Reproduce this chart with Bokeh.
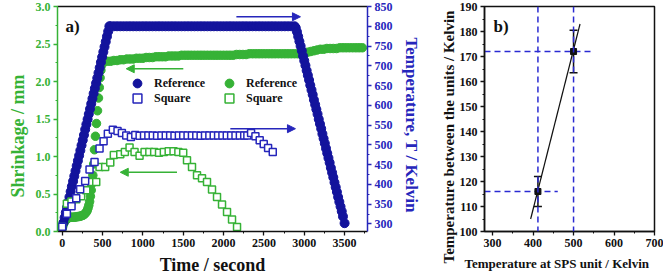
from bokeh.plotting import figure
from bokeh.models import (Range1d, LinearAxis, Legend, LegendItem, Arrow, NormalHead,
                          Whisker, TeeHead, ColumnDataSource, Label, Span, Title,
                          SingleIntervalTicker, PrintfTickFormatter, FixedTicker)
from bokeh.layouts import row
from bokeh.embed import file_html
from bokeh.resources import INLINE

# ---------------- data: panel a) ----------------
# Reference, temperature (right axis, K)
bref_ramp_t = [0, 15, 30, 45, 60, 75, 90, 105, 120, 135, 150, 165, 180, 195, 210, 225, 240, 255, 270, 285,
               300, 315, 330, 345, 360, 375, 390, 405, 420, 435, 450, 465, 480, 495, 510, 525, 540, 555, 570, 585]
bref_ramp_T = [290, 303, 316, 329, 342, 355, 368, 382, 395, 408, 421, 434, 447, 460, 473, 486, 499, 512, 525, 539,
               552, 565, 578, 591, 604, 617, 630, 643, 656, 669, 682, 695, 709, 722, 735, 748, 761, 774, 787, 800]
bref_hold_t = [600, 640, 680, 720, 760, 800, 840, 880, 920, 960, 1000, 1040, 1080, 1120, 1160, 1200, 1240, 1280,
               1320, 1360, 1400, 1440, 1480, 1520, 1560, 1600, 1640, 1680, 1720, 1760, 1800, 1840, 1880, 1920,
               1960, 2000, 2040, 2080, 2120, 2160, 2200, 2240, 2280, 2320, 2360, 2400, 2440, 2480, 2520, 2560,
               2600, 2640, 2680, 2720, 2760, 2800, 2840, 2880]
bref_hold_T = [800, 800, 800, 800, 800, 800, 800, 800, 800, 800, 800, 800, 800, 800, 800, 800, 800, 800,
               800, 800, 800, 800, 800, 800, 800, 800, 800, 800, 800, 800, 800, 800, 800, 800,
               800, 800, 800, 800, 800, 800, 800, 800, 800, 800, 800, 800, 800, 800, 800, 800,
               800, 800, 800, 800, 800, 800, 800, 800]
bref_cool_t = [2895, 2910, 2925, 2940, 2955, 2970, 2985, 3000, 3015, 3030, 3045, 3060, 3075, 3090, 3105, 3120,
               3135, 3150, 3165, 3180, 3195, 3210, 3225, 3240, 3255, 3270, 3285, 3300, 3315, 3330, 3345, 3360,
               3375, 3390, 3405, 3420, 3435, 3450, 3465, 3480, 3500]
bref_cool_T = [796, 786, 774, 762, 750, 738, 725, 713, 701, 688, 676, 664, 651, 639, 627, 614,
               602, 590, 578, 565, 553, 541, 528, 516, 504, 491, 479, 467, 455, 442, 430, 418,
               405, 393, 381, 368, 356, 344, 332, 319, 302]

# Reference, shrinkage (left axis, mm)
gref_early_t = [0, 10, 20, 30, 45, 60, 75, 90, 105, 120, 135, 150, 165, 180, 195, 210, 225, 240, 255, 270,
                285, 300, 310, 320, 330, 340, 350, 360, 370, 380, 390, 400, 412, 425, 438, 450, 460, 470,
                480, 490, 500, 510, 520]
gref_early_s = [0.05, 0.08, 0.11, 0.13, 0.15, 0.17, 0.18, 0.185, 0.19, 0.19, 0.19, 0.19, 0.195, 0.195, 0.20,
                0.20, 0.205, 0.21, 0.215, 0.225, 0.24, 0.26, 0.28, 0.31, 0.35, 0.40, 0.47, 0.55, 0.64, 0.75,
                0.90, 1.09, 1.27, 1.44, 1.61, 1.78, 1.92, 2.05, 2.15, 2.22, 2.25, 2.26, 2.27]
gref_plat_t = [560, 600, 640, 680, 720, 760, 800, 840, 880, 920, 960, 1000, 1040, 1080, 1120, 1160, 1200,
               1240, 1280, 1320, 1360, 1400, 1440, 1480, 1520, 1560, 1600, 1640, 1680, 1720, 1760, 1800,
               1840, 1880, 1920, 1960, 2000, 2040, 2080, 2120, 2160, 2200, 2240, 2280, 2320, 2360, 2400,
               2440, 2480, 2520, 2560, 2600, 2640, 2680, 2720, 2760, 2800, 2840, 2880, 2920, 2960, 3000,
               3040, 3080, 3120, 3160, 3200, 3240, 3280, 3320, 3360, 3400, 3440, 3480, 3520, 3560, 3600,
               3640, 3680, 3720]
gref_plat_s = [2.27, 2.27, 2.28, 2.28, 2.29, 2.29, 2.30, 2.30, 2.30, 2.31, 2.31, 2.31, 2.32, 2.32, 2.32, 2.33,
               2.33, 2.33, 2.33, 2.34, 2.34, 2.34, 2.34, 2.35, 2.35, 2.35, 2.35, 2.35, 2.35, 2.35, 2.35, 2.35,
               2.35, 2.35, 2.35, 2.35, 2.35, 2.35, 2.35, 2.35, 2.36, 2.36, 2.36, 2.36, 2.37, 2.37, 2.37,
               2.37, 2.37, 2.37, 2.37, 2.37, 2.37, 2.37, 2.37, 2.37, 2.37, 2.37, 2.37, 2.37, 2.37, 2.38,
               2.39, 2.40, 2.41, 2.42, 2.43, 2.43, 2.44, 2.44, 2.44, 2.44, 2.45, 2.45, 2.45, 2.45, 2.45,
               2.45, 2.45, 2.45]

# Square sample, shrinkage (left axis, mm)
gsq_t = [0, 58, 115, 175, 235, 298, 360, 422, 463, 533, 596, 640, 720, 777, 835, 897, 959, 1021, 1080,
         1140, 1200, 1260, 1320, 1380, 1440, 1500, 1547, 1609, 1671, 1733, 1795, 1857, 1919, 1981, 2043,
         2105, 2167]
gsq_s = [0.06, 0.37, 0.40, 0.43, 0.47, 0.55, 0.66, 0.66, 0.86, 0.86, 0.92, 1.02, 1.03, 1.06, 1.12, 1.06,
         1.01, 1.06, 1.06, 1.06, 1.05, 1.06, 1.07, 1.07, 1.06, 1.05, 0.95, 0.86, 0.75, 0.71, 0.66, 0.56,
         0.46, 0.36, 0.26, 0.16, 0.06]

# Square sample, temperature (right axis, K)
bsq_t = [0, 58, 116, 174, 223, 285, 339, 401, 463, 513, 566, 628, 686, 740, 794, 852, 906, 960, 1014, 1068,
         1122, 1176, 1230, 1284, 1338, 1392, 1446, 1500, 1554, 1608, 1662, 1716, 1770, 1824, 1878, 1932,
         1986, 2040, 2094, 2148, 2202, 2256, 2295, 2341, 2395, 2448, 2498, 2552, 2610]
bsq_T = [293, 326, 345, 365, 388, 409, 438, 457, 491, 509, 528, 538, 535, 530, 524, 520, 525, 523, 524, 524,
         524, 523, 524, 524, 524, 523, 524, 524, 524, 524, 524, 523, 524, 524, 524, 524,
         524, 524, 524, 524, 524, 524, 524, 530, 522, 512, 502, 492, 482]

# ---------------- data: panel b) ----------------
sps_T = [412, 500]
unit_T = [116, 172]
unit_err = [6, 8.5]
fit_x = [394, 516]
fit_y = [105, 183]
guide_h_end = [461, 548]

FONT = "Liberation Serif"
GREEN = "#36b236"
NAVY = "#13139c"
BLUE = "#2626bb"
DASH_BLUE = "#2a2ad2"
BLACK = "#111111"

FRAME_H = 225


def style_axis(ax, color, interval, fmt=None, title=None, title_size="17px", standoff=5):
    ax.ticker = SingleIntervalTicker(interval=interval, num_minor_ticks=2)
    ax.axis_line_color = color
    ax.axis_line_width = 1.5
    ax.major_tick_line_color = color
    ax.minor_tick_line_color = color
    ax.major_tick_line_width = 1.3
    ax.minor_tick_line_width = 1
    ax.major_tick_in = 0
    ax.major_tick_out = 4
    ax.minor_tick_in = 0
    ax.minor_tick_out = 2
    ax.major_label_text_font = FONT
    ax.major_label_text_font_style = "bold"
    ax.major_label_text_font_size = "12px"
    ax.major_label_text_color = color
    ax.major_label_standoff = 3
    if fmt:
        ax.formatter = PrintfTickFormatter(format=fmt)
    if title:
        ax.axis_label = title
        ax.axis_label_text_font = FONT
        ax.axis_label_text_font_style = "bold"
        ax.axis_label_text_font_size = title_size
        ax.axis_label_text_color = color
        ax.axis_label_standoff = standoff


def side_title(fig, text, side, size, color, offset, standoff):
    fig.add_layout(Title(text=text, align="left", offset=offset, standoff=standoff,
                         text_font=FONT, text_font_style="bold", text_font_size=size,
                         text_color=color), side)


# ---------------- panel a) ----------------
p = figure(frame_width=310, frame_height=FRAME_H, min_border_left=57, min_border_right=71,
           min_border_top=6, min_border_bottom=48,
           x_range=Range1d(-58, 3784), y_range=Range1d(0, 3.0),
           output_backend="svg", toolbar_location=None)
p.extra_y_ranges = {"temp": Range1d(281, 850)}
p.xgrid.visible = False
p.ygrid.visible = False
p.outline_line_color = None
p.background_fill_color = "white"
p.border_fill_color = "white"

style_axis(p.xaxis[0], BLACK, 500, title="Time / second", title_size="18px", standoff=5)
style_axis(p.yaxis[0], GREEN, 0.5, "%.1f")
ax_r = LinearAxis(y_range_name="temp")
style_axis(ax_r, BLUE, 50)
p.add_layout(ax_r, "right")
ax_top = LinearAxis(ticker=FixedTicker(ticks=[]), major_label_text_font_size="0px",
                    major_tick_out=0, minor_tick_out=0, major_tick_in=0, minor_tick_in=0,
                    major_label_standoff=0, axis_line_color=BLACK, axis_line_width=1.5)
p.add_layout(ax_top, "above")
side_title(p, "Shrinkage / mm", "left", "18px", GREEN, 34, 10)
side_title(p, "Temperature, T / Kelvin", "right", "17px", BLUE, 31, 12)

g_ref = p.scatter(gref_early_t + gref_plat_t, gref_early_s + gref_plat_s, marker="circle", size=8.5,
                  fill_color=GREEN, line_color=GREEN)
b_ref = p.scatter(bref_ramp_t + bref_hold_t + bref_cool_t, bref_ramp_T + bref_hold_T + bref_cool_T,
                  y_range_name="temp", marker="circle", size=9, fill_color=NAVY, line_color=NAVY)
g_sq = p.scatter(gsq_t, gsq_s, marker="square", size=7, fill_color="white", line_color=GREEN, line_width=1.5)
b_sq = p.scatter(bsq_t, bsq_T, y_range_name="temp", marker="square", size=7, fill_color="white",
                 line_color=BLUE, line_width=1.5)


def add_leg(fig, r, label, x, y):
    leg = Legend(items=[LegendItem(label=label, renderers=[r])], location=(x, y),
                 glyph_width=22, glyph_height=22, label_standoff=6, padding=0, margin=0, spacing=0,
                 border_line_color=None, background_fill_alpha=0, label_height=22,
                 label_text_font=FONT, label_text_font_style="bold", label_text_font_size="12px",
                 label_text_color=BLACK)
    fig.add_layout(leg)


add_leg(p, b_ref, "Reference", 69, 137)
add_leg(p, b_sq, "Square", 69, 122)
add_leg(p, g_ref, "Reference", 161, 137)
add_leg(p, g_sq, "Square", 161, 122)

p.add_layout(Arrow(x_start=1501, y_start=2.17, x_end=794, y_end=2.17, line_color=GREEN, line_width=1.5,
                   end=NormalHead(size=8, fill_color=GREEN, line_color=GREEN)))
p.add_layout(Arrow(x_start=1423, y_start=0.79, x_end=720, y_end=0.79, line_color=GREEN, line_width=1.5,
                   end=NormalHead(size=8, fill_color=GREEN, line_color=GREEN)))
p.add_layout(Arrow(x_start=2159, y_start=824, x_end=2953, y_end=824, y_range_name="temp",
                   line_color=BLUE, line_width=1.5,
                   end=NormalHead(size=8, fill_color=BLUE, line_color=BLUE)))
p.add_layout(Arrow(x_start=2084, y_start=541, x_end=2891, y_end=541, y_range_name="temp",
                   line_color=BLUE, line_width=1.5,
                   end=NormalHead(size=8, fill_color=BLUE, line_color=BLUE)))

p.add_layout(Label(x=8, y=FRAME_H - 10, x_units="screen", y_units="screen", text="a)", text_font=FONT,
                   text_font_style="bold", text_font_size="17px", text_baseline="top", text_color=BLACK))

# ---------------- panel b) ----------------
p2 = figure(frame_width=170, frame_height=FRAME_H, min_border_left=45, min_border_right=10,
            min_border_top=6, min_border_bottom=48,
            x_range=Range1d(280, 700), y_range=Range1d(100, 190),
            output_backend="svg", toolbar_location=None)
p2.xgrid.visible = False
p2.ygrid.visible = False
p2.outline_line_color = BLACK
p2.outline_line_width = 1.5
style_axis(p2.xaxis[0], BLACK, 100)
style_axis(p2.yaxis[0], BLACK, 10)
side_title(p2, "Temperature between the units / Kelvin", "left", "15px", BLACK, -32, 0)
side_title(p2, "Temperature at SPS unit  / Kelvin", "below", "13px", BLACK, -20, 9)

for v in sps_T:
    p2.add_layout(Span(location=v, dimension="height", line_color=DASH_BLUE, line_dash="6 4",
                       line_width=1.5))
p2.segment(x0=[p2.x_range.start] * len(unit_T), y0=unit_T, x1=guide_h_end, y1=unit_T,
           line_color=DASH_BLUE, line_dash="6 4", line_width=1.5)
p2.line(fit_x, fit_y, line_color=BLACK, line_width=1.2)

err_src = ColumnDataSource(dict(base=sps_T,
                                upper=[u + e for u, e in zip(unit_T, unit_err)],
                                lower=[u - e for u, e in zip(unit_T, unit_err)]))
p2.add_layout(Whisker(base="base", upper="upper", lower="lower", source=err_src, dimension="height",
                      line_color=BLACK, line_width=1.5,
                      upper_head=TeeHead(size=8, line_color=BLACK, line_width=1.5),
                      lower_head=TeeHead(size=8, line_color=BLACK, line_width=1.5)))
p2.scatter(sps_T, unit_T, marker="square", size=6, fill_color=BLACK, line_color=BLACK)

p2.add_layout(Label(x=9, y=FRAME_H - 10, x_units="screen", y_units="screen", text="b)", text_font=FONT,
                    text_font_style="bold", text_font_size="17px", text_baseline="top", text_color=BLACK))

layout = row(p, p2)
open("out.html", "w").write(file_html(layout, INLINE))
